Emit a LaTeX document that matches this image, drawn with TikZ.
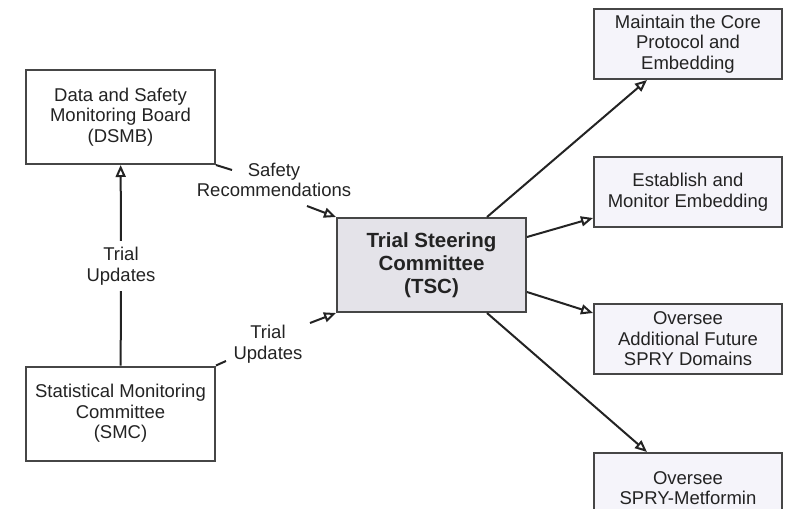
\documentclass[tikz,border=0pt]{standalone}
\usepackage{fontspec}
\setmainfont{Liberation Sans}
\usetikzlibrary{arrows.meta}
\definecolor{ink}{RGB}{35,35,35}
\definecolor{edge}{RGB}{70,70,70}
\definecolor{tscfill}{RGB}{228,227,233}
\definecolor{taskfill}{RGB}{245,244,250}
\begin{document}
\begin{tikzpicture}[x=1pt,y=-1pt,
  every node/.style={text=ink, font=\fontsize{18.5}{20.5}\selectfont, align=center},
  board/.style={draw=edge, line width=2pt, fill=white, minimum width=189pt, minimum height=94pt, inner sep=0pt},
  tscbox/.style={board, fill=tscfill, font=\fontsize{20.5}{23}\selectfont\bfseries},
  task/.style={draw=edge, line width=2pt, fill=taskfill, minimum width=188pt, minimum height=70pt, inner sep=0pt},
  lbl/.style={inner xsep=3pt, inner ysep=6pt},
  link/.style={draw=ink, line width=2pt},
  arr/.style={link, -{Triangle[open, length=12pt, width=10pt]}}
]
\useasboundingbox (0,0) rectangle (787,517);
\clip (0,0) rectangle (787,508);

% committees on the left
\node[board] (dsmb) at (120.5,117) {Data and Safety\\Monitoring Board\\(DSMB)};
\node[board] (smc) at (120.5,413.5) {Statistical Monitoring\\Committee\\(SMC)};

% steering committee
\node[tscbox] (tsc) at (431.5,265) {Trial Steering\\Committee\\(TSC)};

% responsibilities
\node[task] (t1) at (688,44) {Maintain the Core\\Protocol and\\Embedding};
\node[task] (t2) at (688,192) {Establish and\\Monitor Embedding};
\node[task] (t3) at (688,339) {Oversee\\Additional Future\\SPRY Domains};
\node[task] (t4) at (688,488) {Oversee\\SPRY-Metformin};

% SMC -> DSMB
\node[lbl] (upd1) at (121,266) {Trial\\Updates};
\draw[link] (smc) -- (upd1);
\draw[arr] (upd1) -- (dsmb);

% DSMB -> TSC
\node[lbl] (safe) at (274,180) {Safety\\Recommendations};
\coordinate (s1) at (232,170);
\coordinate (s2) at (307,206);
\draw[link] (dsmb.south east) -- (s1);
\draw[arr] (s2) -- (tsc.north west);

% SMC -> TSC
\node[lbl] (upd2) at (268,344) {Trial\\Updates};
\coordinate (u1) at (226,361);
\coordinate (u2) at (310,323);
\draw[link] (smc.north east) -- (u1);
\draw[arr] (u2) -- (tsc.south west);

% TSC -> responsibilities
\draw[arr] ([xshift=55.5pt]tsc.north) -- ([xshift=-41pt]t1.south);
\draw[arr] ([yshift=28pt]tsc.east) -- ([yshift=-26pt]t2.west);
\draw[arr] ([yshift=-27pt]tsc.east) -- ([yshift=26pt]t3.west);
\draw[arr] ([xshift=55.5pt]tsc.south) -- ([xshift=-41pt]t4.north);
\end{tikzpicture}
\end{document}
